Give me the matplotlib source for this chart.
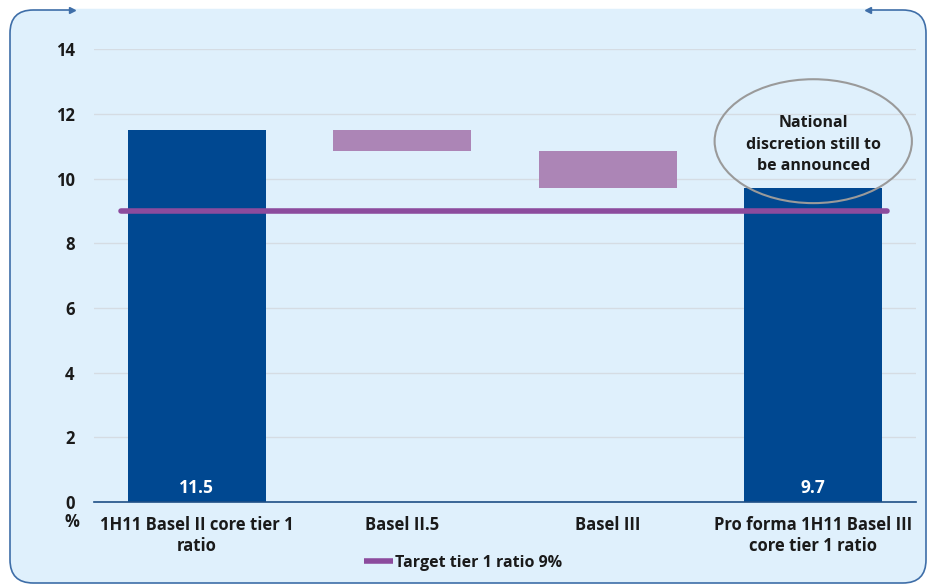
import matplotlib.pyplot as plt
from matplotlib.patches import Ellipse, FancyBboxPatch
from matplotlib.lines import Line2D

plt.rcParams['font.family'] = ['Open Sans', 'DejaVu Sans']
plt.rcParams['font.weight'] = 'bold'

# 資料
categories = ['1H11 Basel II core tier 1\nratio', 'Basel II.5', 'Basel III',
              'Pro forma 1H11 Basel III\ncore tier 1 ratio']
start_value = 11.5
steps = [-0.65, -1.15]
end_value = 9.7
target = 9.0
target_label = 'Target tier 1 ratio 9%'
note = 'National\ndiscretion still to\nbe announced'
yticks = [0, 2, 4, 6, 8, 10, 12, 14]

W, H = 928, 585
bar_color = '#004891'
step_color = '#AC85B6'
line_color = '#8C4B9D'
panel_color = '#DFF0FC'
edge_color = '#3E6EA8'
text_color = '#1A1A1A'

fig = plt.figure(figsize=(W / 100, H / 100), dpi=100)
fig.patch.set_facecolor('white')


def fx(px):
    return px / W


def fy(py):
    return 1 - py / H


# 背景面板
panel = FancyBboxPatch((fx(10), fy(583)), fx(926) - fx(10), fy(10) - fy(583),
                       boxstyle='round,pad=0,rounding_size=0.025',
                       transform=fig.transFigure, facecolor=panel_color,
                       edgecolor=edge_color, linewidth=1.2, zorder=0,
                       mutation_aspect=W / H)
fig.patches.append(panel)
# 上緣中段不畫框線
fig.add_artist(Line2D([fx(74), fx(866)], [fy(10), fy(10)], color=panel_color,
                      lw=2.5, transform=fig.transFigure, zorder=0.5))
fig.add_artist(Line2D([fx(72)], [fy(10)], marker='>', color=edge_color, ms=5,
                      transform=fig.transFigure, zorder=1))
fig.add_artist(Line2D([fx(868)], [fy(10)], marker='<', color=edge_color, ms=4,
                      transform=fig.transFigure, zorder=1))

ax = fig.add_axes([fx(94), fy(502.2), fx(916) - fx(94), fy(49.3) - fy(502.2)])
ax.set_facecolor('none')
ax.set_zorder(3)

# 瀑布圖
x = range(len(categories))
levels = [start_value]
for s in steps:
    levels.append(levels[-1] + s)
bottoms = [0]
heights = [start_value]
for i, s in enumerate(steps):
    bottoms.append(min(levels[i], levels[i + 1]))
    heights.append(abs(s))
bottoms.append(0)
heights.append(end_value)
colors = [bar_color] + [step_color] * len(steps) + [bar_color]

ax.bar(x, heights, bottom=bottoms, width=0.67, color=colors, zorder=2)

for i, v in [(0, start_value), (len(categories) - 1, end_value)]:
    ax.text(i, 0.43, f'{v:.1f}', ha='center', va='center', color='white',
            fontsize=12.5, fontweight='bold', zorder=3)

ax.hlines(target, -0.37, 3.36, color=line_color, lw=4, capstyle='round',
          zorder=4, label=target_label)

ax.add_patch(Ellipse((3.0, 11.16), 0.96, 3.83, facecolor='none',
                     edgecolor='#9A9A9A', lw=1.5, zorder=5))
ax.text(3.0, 11.05, note, ha='center', va='center', fontsize=11.5,
        fontweight='bold', color=text_color, linespacing=1.45, zorder=6)

ax.set_xlim(-0.5, 3.5)
ax.set_ylim(0, 14)
ax.set_yticks(yticks)
ax.set_xticks(list(x))
ax.set_xticklabels(categories, fontsize=11.5, color=text_color, linespacing=1.2)
ax.tick_params(axis='both', length=0, labelsize=12, labelcolor=text_color)
ax.tick_params(axis='y', pad=14)
ax.tick_params(axis='x', pad=10)
ax.grid(axis='y', color='#D5DCE3', lw=1, zorder=1)
ax.set_axisbelow(True)
for side in ['top', 'right', 'left']:
    ax.spines[side].set_visible(False)
ax.spines['bottom'].set_color('#1D4F86')
ax.spines['bottom'].set_linewidth(1.2)

fig.text(fx(72), fy(522), '%', ha='center', va='center', fontsize=12,
         fontweight='bold', color=text_color, zorder=4)

leg = fig.legend(loc='center', bbox_to_anchor=(fx(463), fy(563)), frameon=False,
                 handlelength=1.8, handletextpad=0.1, fontsize=11.5,
                 labelcolor=text_color)
leg.set_zorder(4)

fig.savefig('out.png', dpi=100)
